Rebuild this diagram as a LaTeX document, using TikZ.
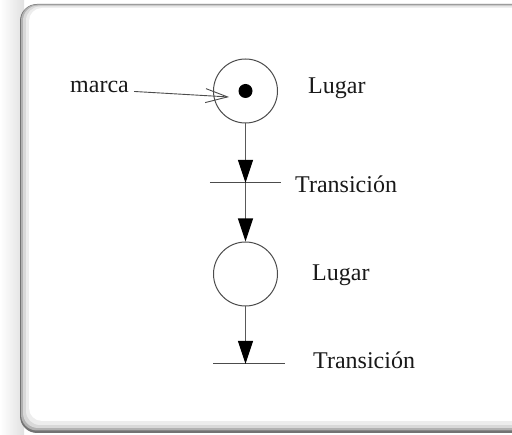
\documentclass[tikz,border=0pt]{standalone}
\usepackage{fontspec}
\setmainfont{Liberation Serif}
\usetikzlibrary{arrows.meta}
\tikzset{
  place/.style={circle, draw=black!70, line width=1pt, minimum size=64pt, inner sep=0pt},
  token/.style={circle, fill=black, minimum size=14pt, inner sep=0pt},
  transbar/.style={minimum width=71pt, minimum height=0pt, inner sep=0pt},
  label/.style={font=\fontsize{24}{28}\selectfont, inner sep=0pt, anchor=base west, text=black!90},
  arc/.style={draw=black!65, line width=1.2pt, -{Triangle[length=23pt,width=15pt,color=black,fill=black]}},
  pointer/.style={draw=black!70, line width=0.9pt, -{Straight Barb[length=22pt,width=14pt,line width=0.9pt]}}
}
\begin{document}
\begin{tikzpicture}[x=1pt,y=-1pt]
\useasboundingbox (0,0) rectangle (512,435);
% backdrop with soft shading to the left of the panel
\fill[white] (0,0) rectangle (512,435);
\shade[left color=white, right color=black!12] (0,0) rectangle (24,435);
% panel with bevelled border
\fill[black!55, rounded corners=17pt] (20,4) rectangle (530,433);
\fill[black!30, rounded corners=16pt] (21,4.5) rectangle (529,430.5);
\fill[black!15, rounded corners=15pt] (23,5.5) rectangle (528,428);
\fill[black!7, rounded corners=14pt] (26,6.5) rectangle (527,425);
\fill[white, rounded corners=13pt] (29,8) rectangle (526,421);

% places, token and transitions
\node[place] (p1) at (245.5,91) {};
\node[token] (m) at (245.5,91) {};
\node[transbar] (t1) at (245.5,183) {};
\node[place] (p2) at (245.5,274) {};
\node[transbar] (t2) at (249,364) {};
\draw[black!70, line width=1pt] (t1.west) -- (t1.east);
\draw[black!70, line width=1pt] (t2.west) -- (t2.east);

% labels
\node[label] (marca) at (70,93) {marca};
\node[label] (l1) at (308,94) {Lugar};
\node[label] (tt1) at (295,193) {Transición};
\node[label] (l2) at (312,281) {Lugar};
\node[label] (tt2) at (313,369) {Transición};

% arcs
\coordinate (mk) at (229,97);
\draw[pointer] ([xshift=5pt,yshift=-4pt]marca.east) -- (mk);
\draw[arc] (p1.south) -- (t1.center);
\draw[arc] (t1.center) -- (p2.north);
\draw[arc] (p2.south) -- (p2.south |- t2.center);
\end{tikzpicture}
\end{document}
